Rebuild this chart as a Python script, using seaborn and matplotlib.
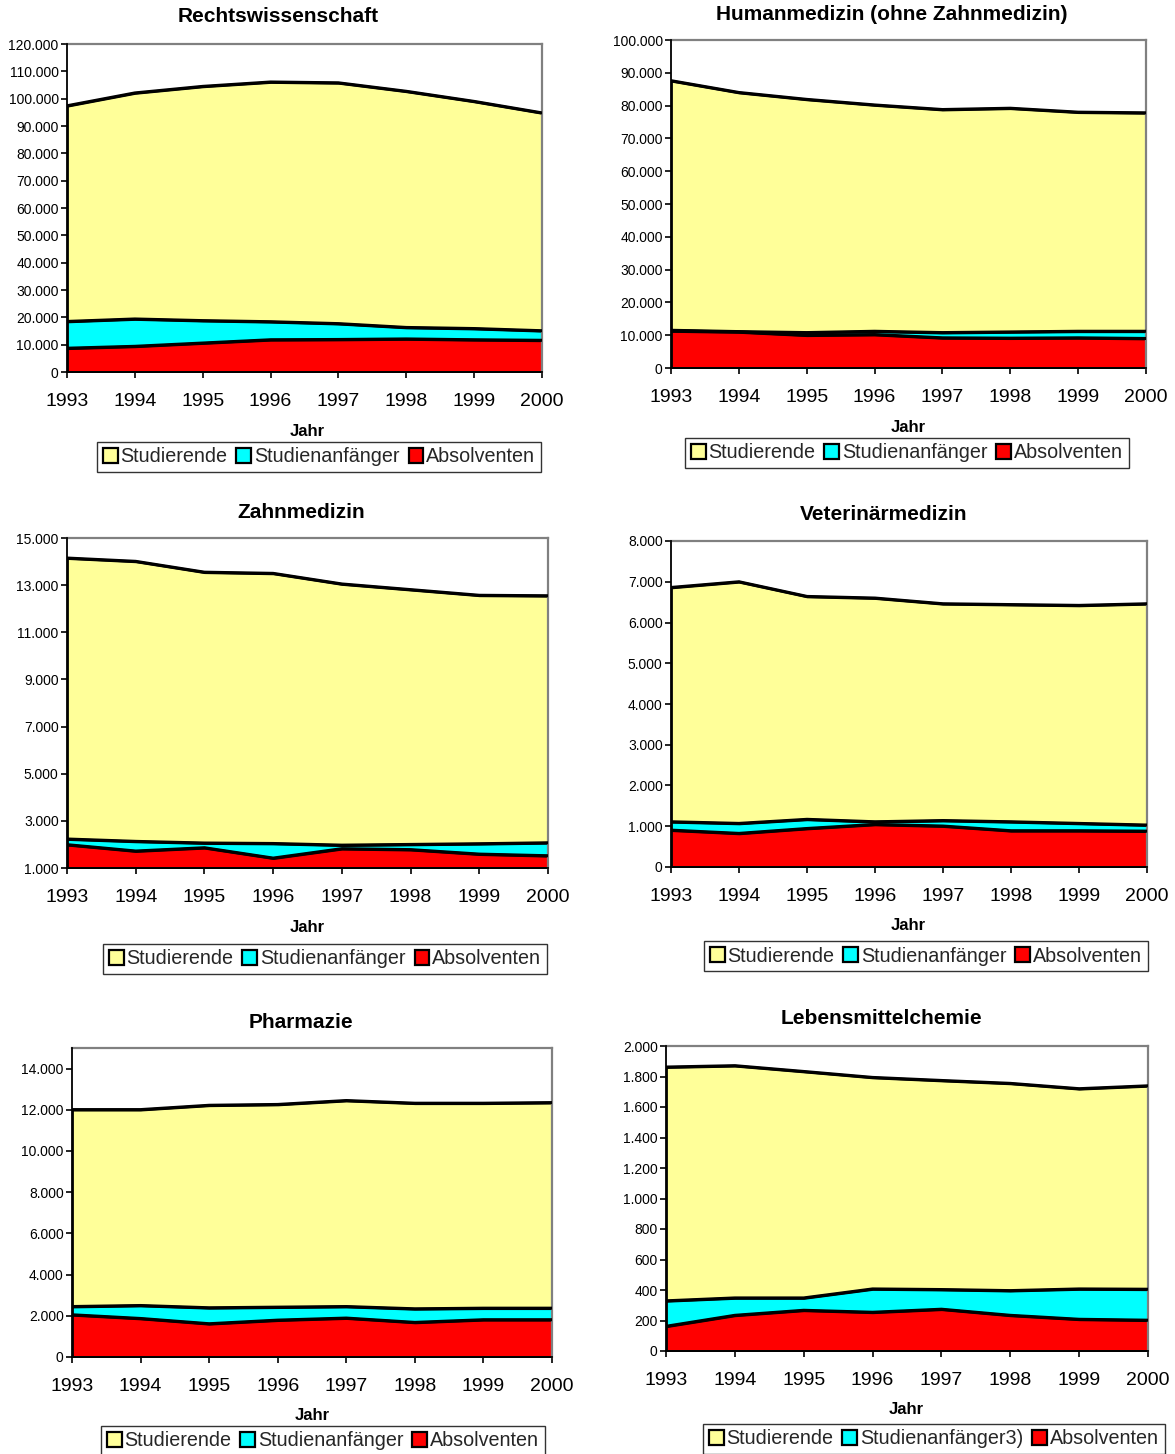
import numpy as np
import pandas as pd
import matplotlib
matplotlib.use("Agg")
import matplotlib.pyplot as plt
import seaborn as sns
from matplotlib.patches import Patch
from matplotlib.ticker import FuncFormatter, FixedLocator

# ---------------- data ----------------
years = [1993, 1994, 1995, 1996, 1997, 1998, 1999, 2000]
series_labels = ["Studierende", "Studienanfänger", "Absolventen"]
series_labels_lc = ["Studierende", "Studienanfänger3)", "Absolventen"]

recht_studierende = [97400, 102100, 104500, 106100, 105800, 102700, 99000, 94800]
recht_anfaenger = [18500, 19400, 18800, 18400, 17700, 16300, 15900, 15100]
recht_absolventen = [8700, 9400, 10600, 11800, 11900, 12100, 11800, 11600]

human_studierende = [87600, 84000, 81900, 80200, 78800, 79200, 78000, 77800]
human_anfaenger = [11500, 11100, 10800, 11200, 10800, 11000, 11200, 11200]
human_absolventen = [11300, 11000, 10000, 10200, 9200, 9100, 9200, 9000]

zahn_studierende = [14150, 14010, 13550, 13500, 13050, 12810, 12570, 12550]
zahn_anfaenger = [2230, 2130, 2060, 2040, 1970, 2000, 2030, 2070]
zahn_absolventen = [1990, 1720, 1860, 1420, 1820, 1780, 1590, 1520]

vet_studierende = [6860, 7000, 6640, 6600, 6460, 6440, 6420, 6460]
vet_anfaenger = [1110, 1070, 1170, 1110, 1140, 1110, 1070, 1030]
vet_absolventen = [905, 825, 945, 1045, 1005, 890, 890, 880]

pharm_studierende = [12010, 12010, 12220, 12260, 12450, 12320, 12320, 12350]
pharm_anfaenger = [2450, 2500, 2390, 2420, 2450, 2340, 2370, 2370]
pharm_absolventen = [2050, 1870, 1615, 1790, 1890, 1680, 1810, 1810]

lebens_studierende = [1862, 1871, 1833, 1794, 1774, 1755, 1720, 1739]
lebens_anfaenger = [329, 348, 348, 407, 403, 396, 407, 405]
lebens_absolventen = [162, 234, 267, 254, 274, 234, 208, 202]

titles = ["Rechtswissenschaft", "Humanmedizin (ohne Zahnmedizin)", "Zahnmedizin",
          "Veterinärmedizin", "Pharmazie", "Lebensmittelchemie"]

# ---------------- style ----------------
sns.set_theme(style="white")
plt.rcParams["font.family"] = ["Liberation Sans", "DejaVu Sans"]

W, H = 1175, 1454
fig = plt.figure(figsize=(W / 100, H / 100), dpi=100, facecolor="white")

colors = ["#FFFF99", "#00FFFF", "#FF0000"]

panels = [
    dict(data=(recht_studierende, recht_anfaenger, recht_absolventen), ylim=(0, 120000),
         yticks=np.arange(0, 120001, 10000), labels=series_labels,
         box=(67, 542, 44, 372), title=(278, 17), xlab=(307, 432), leg=(319, 457)),
    dict(data=(human_studierende, human_anfaenger, human_absolventen), ylim=(0, 100000),
         yticks=np.arange(0, 100001, 10000), labels=series_labels,
         box=(671, 1146, 40, 368), title=(892, 14), xlab=(908, 427), leg=(907, 453)),
    dict(data=(zahn_studierende, zahn_anfaenger, zahn_absolventen), ylim=(1000, 15000),
         yticks=np.arange(1000, 15001, 2000), labels=series_labels,
         box=(67, 548, 538, 868), title=(301, 513), xlab=(307, 928), leg=(325, 959)),
    dict(data=(vet_studierende, vet_anfaenger, vet_absolventen), ylim=(0, 8000),
         yticks=np.arange(0, 8001, 1000), labels=series_labels,
         box=(671, 1147, 541, 867), title=(884, 514), xlab=(908, 926), leg=(926, 956)),
    dict(data=(pharm_studierende, pharm_anfaenger, pharm_absolventen), ylim=(0, 15000),
         yticks=np.arange(0, 14001, 2000), labels=series_labels,
         box=(72, 552, 1048, 1357), title=(301, 1023), xlab=(312, 1415), leg=(323, 1441)),
    dict(data=(lebens_studierende, lebens_anfaenger, lebens_absolventen), ylim=(0, 2000),
         yticks=np.arange(0, 2001, 200), labels=series_labels_lc,
         box=(666, 1148, 1046, 1351), title=(881, 1018), xlab=(906, 1409), leg=(934, 1439)),
]

def de_fmt(v, pos):
    return f"{int(round(v)):,}".replace(",", ".")

for title, p in zip(titles, panels):
    l, r, t, b = p["box"]
    ax = fig.add_axes([l / W, 1 - b / H, (r - l) / W, (b - t) / H])
    ax.set_facecolor("white")
    base = p["ylim"][0]
    df = pd.DataFrame({"Jahr": years})
    for name, vals, col in zip(p["labels"], p["data"], colors):
        df[name] = vals
        ax.fill_between(df["Jahr"], df[name], base, facecolor=col, edgecolor="black",
                        linewidth=2.0, zorder=2, joinstyle="round")
        sns.lineplot(data=df, x="Jahr", y=name, ax=ax, color="black", linewidth=2.2,
                     zorder=3, legend=False)
    ax.set_xlim(years[0], years[-1])
    ax.set_ylim(*p["ylim"])
    ax.xaxis.set_major_locator(FixedLocator(years))
    ax.yaxis.set_major_locator(FixedLocator(p["yticks"]))
    ax.yaxis.set_major_formatter(FuncFormatter(de_fmt))
    ax.set_xlabel("")
    ax.set_ylabel("")
    ax.tick_params(axis="x", which="major", direction="out", length=4, width=1.2,
                   color="black", labelsize=14, pad=11, bottom=True, labelcolor="black")
    ax.tick_params(axis="y", which="major", direction="out", length=4, width=1.2,
                   color="black", labelsize=10, pad=2, left=True, labelcolor="black")
    for side in ["left", "bottom"]:
        ax.spines[side].set_color("black")
        ax.spines[side].set_linewidth(1.3)
        ax.spines[side].set_zorder(5)
    for side in ["top", "right"]:
        ax.spines[side].set_color("#808080")
        ax.spines[side].set_linewidth(1.6)
    for s in ax.spines.values():
        s.set_visible(True)

    tx, ty = p["title"]
    fig.text(tx / W, 1 - ty / H, title, ha="center", va="center", fontsize=15,
             fontweight="bold", color="black")
    jx, jy = p["xlab"]
    fig.text(jx / W, 1 - jy / H, "Jahr", ha="center", va="center", fontsize=12,
             fontweight="bold", color="black")
    handles = [Patch(facecolor=c, edgecolor="black", linewidth=1.6) for c in colors]
    lx, ly = p["leg"]
    leg = fig.legend(handles, p["labels"], loc="center", bbox_to_anchor=(lx / W, 1 - ly / H),
                     ncol=3, frameon=True, fancybox=False, shadow=False, fontsize=14.2,
                     handlelength=0.75, handleheight=0.75, handletextpad=0.15,
                     columnspacing=0.45, borderpad=0.3, borderaxespad=0.0)
    leg.get_frame().set_edgecolor("black")
    leg.get_frame().set_linewidth(1.0)

fig.savefig("out.png", dpi=100, facecolor="white")
